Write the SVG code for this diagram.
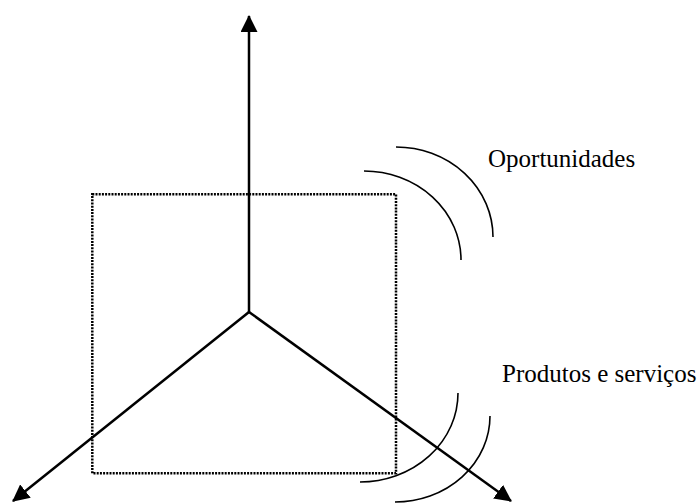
<svg xmlns="http://www.w3.org/2000/svg" width="700" height="503" viewBox="0 0 700 503">
<style>
.axis{stroke:#000;stroke-width:2.5;fill:none;marker-end:url(#ah)}
.arc{stroke:#000;stroke-width:1.6;fill:none}
.box{stroke:#000;stroke-width:2.5;fill:none;stroke-dasharray:2 1.2}
.lbl{font-family:"Liberation Serif","Times New Roman",serif;font-size:25px;fill:#000}
</style>
<defs>
<marker id="ah" markerUnits="userSpaceOnUse" markerWidth="17" markerHeight="17" viewBox="0 0 16 16" refX="15" refY="8" orient="auto">
<path d="M0,0 L16,8 L0,16 Z" fill="#000"/>
</marker>
</defs>
<rect width="700" height="503" fill="#fff"/>
<g id="frame">
<rect class="box" x="92.3" y="194.3" width="303.7" height="279"/>
</g>
<g id="connectors">
<line class="axis" x1="249" y1="312" x2="249" y2="16"/>
<line class="axis" x1="249" y1="312" x2="13" y2="501"/>
<line class="axis" x1="249" y1="312" x2="511" y2="501"/>
</g>
<g id="oportunidades">
<path class="arc" d="M364,171 A97,89 0 0 1 461,260"/>
<path class="arc" d="M396,147 A97,90 0 0 1 493,237"/>
<text class="lbl" x="488" y="167">Oportunidades</text>
</g>
<g id="produtos">
<path class="arc" d="M458,393 A98,89 0 0 1 360,482"/>
<path class="arc" d="M490,416 A95,86 0 0 1 395,502"/>
<text class="lbl" x="502" y="382">Produtos e serviços</text>
</g>
</svg>
